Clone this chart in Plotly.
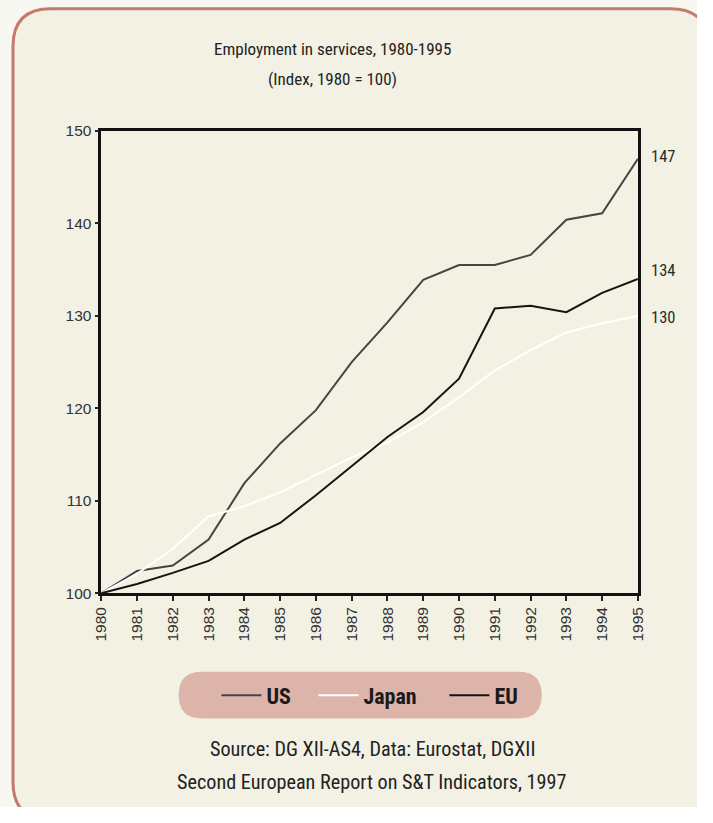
import plotly.graph_objects as go

# Index of employment in services, 1980 = 100
years = list(range(1980, 1996))
us = [100.0, 102.4, 103.0, 105.8, 111.9, 116.2, 119.8, 125.0, 129.3,
      133.9, 135.5, 135.5, 136.6, 140.4, 141.1, 147.0]
japan = [100.0, 102.1, 104.8, 108.3, 109.4, 110.9, 112.8, 114.7, 116.3,
         118.5, 121.2, 124.1, 126.3, 128.2, 129.2, 130.0]
eu = [100.0, 101.0, 102.2, 103.5, 105.8, 107.6, 110.6, 113.7, 116.9,
      119.6, 123.2, 130.8, 131.1, 130.4, 132.5, 134.0]

series = [
    ("US", us, "#454545", 42),
    ("Japan", japan, "#ffffff", 76),
    ("EU", eu, "#141414", 62),
]

W, H = 697, 807
# layout positions below are given in displayed-page pixels
SX, SY, OX, OY = 0.9835, 0.985, 6.0, 6.2
COND = ("Liberation Sans Narrow, Noto Sans Condensed, Roboto Condensed, "
        "DejaVu Sans Condensed, sans-serif")
SANS = "Liberation Sans, Arial, sans-serif"


def px(x, y):
    """Displayed pixel position -> paper coordinates."""
    return (x - OX) / SX / W, 1 - (y - OY) / SY / H


def P(x, y):
    a, b = px(x, y)
    return f"{a:.5f},{b:.5f}"


def rounded_path(x0, y0, x1, y1, r):
    return " ".join([
        f"M {P(x0 + r, y0)}", f"L {P(x1 - r, y0)}",
        f"Q {P(x1, y0)} {P(x1, y0 + r)}", f"L {P(x1, y1 - r)}",
        f"Q {P(x1, y1)} {P(x1 - r, y1)}", f"L {P(x0 + r, y1)}",
        f"Q {P(x0, y1)} {P(x0, y1 - r)}", f"L {P(x0, y0 + r)}",
        f"Q {P(x0, y0)} {P(x0 + r, y0)} Z",
    ])


fig = go.Figure()
for name, vals, color, lw in series:
    fig.add_trace(go.Scatter(
        x=years, y=vals, name=name, mode="lines",
        line=dict(color=color, width=2), legendwidth=lw,
    ))

# End-of-series value labels
label_shift = {"US": 2, "Japan": -2, "EU": 8}
for name, vals, color, _ in series:
    fig.add_annotation(
        x=years[-1], y=vals[-1], xref="x", yref="y",
        text=f"{vals[-1]:.0f}", showarrow=False,
        xanchor="left", yanchor="middle", xshift=11, yshift=label_shift[name],
        font=dict(family=COND, size=16.5, color="#2a2a2a"),
    )

# Title lines
for text, y in [("Employment in services, 1980-1995", 46),
                ("(Index, 1980 = 100)", 77)]:
    ax, ay = px(332, y)
    fig.add_annotation(
        x=ax, y=ay, xref="paper", yref="paper", text=text,
        showarrow=False, xanchor="center", yanchor="middle",
        font=dict(family=COND, size=17, color="#222222"),
    )

# Source lines
for text, y in [("Source: DG XII-AS4, Data: Eurostat, DGXII", 751),
                ("Second European Report on S&T Indicators, 1997", 784)]:
    ax, ay = px(372, y)
    fig.add_annotation(
        x=ax, y=ay, xref="paper", yref="paper", text=text,
        showarrow=False, xanchor="center", yanchor="middle",
        font=dict(family=COND, size=20.2, color="#222222"),
    )

# Rounded frame and legend pill
fig.add_shape(type="path", xref="paper", yref="paper", layer="below",
              path=rounded_path(10, 6, 711, 822, 38),
              line=dict(color="#c47a6e", width=3), fillcolor="#f2f1e4")
fig.add_shape(type="path", xref="paper", yref="paper", layer="below",
              path=rounded_path(177, 673, 543, 720, 23.5),
              line=dict(width=0), fillcolor="#dcb4aa")

x0, y_top = px(99, 129)
x1, y_bot = px(640, 594)
lx, ly = px(389, 697)

fig.update_layout(
    width=W, height=H, autosize=False,
    margin=dict(l=0, r=0, t=0, b=0),
    paper_bgcolor="#f8f8f2",
    plot_bgcolor="#989898",
    showlegend=True,
    legend=dict(
        orientation="h", x=lx, y=ly,
        xanchor="center", yanchor="middle",
        bgcolor="rgba(0,0,0,0)", itemwidth=40,
        font=dict(family=COND, size=22, color="#1a1a1a", weight="bold"),
        itemclick=False, itemdoubleclick=False,
    ),
    xaxis=dict(
        domain=[x0, x1], range=[1980, 1995],
        tickmode="array", tickvals=years, ticktext=[str(y) for y in years],
        tickangle=-90, ticks="outside", ticklen=5, tickwidth=1.5,
        tickcolor="#222", showgrid=False, zeroline=False,
        showline=True, linecolor="#111", linewidth=2.5, mirror=True,
        tickfont=dict(family=SANS, size=15.5, color="#333"),
    ),
    yaxis=dict(
        domain=[y_bot, y_top], range=[100, 150],
        tickvals=[100, 110, 120, 130, 140, 150],
        ticks="outside", ticklen=4, tickwidth=1.5, tickcolor="#222",
        showgrid=False, zeroline=False,
        showline=True, linecolor="#111", linewidth=2.5, mirror=True,
        tickfont=dict(family=SANS, size=15.5, color="#333"),
    ),
)

fig.write_html("out.html")
